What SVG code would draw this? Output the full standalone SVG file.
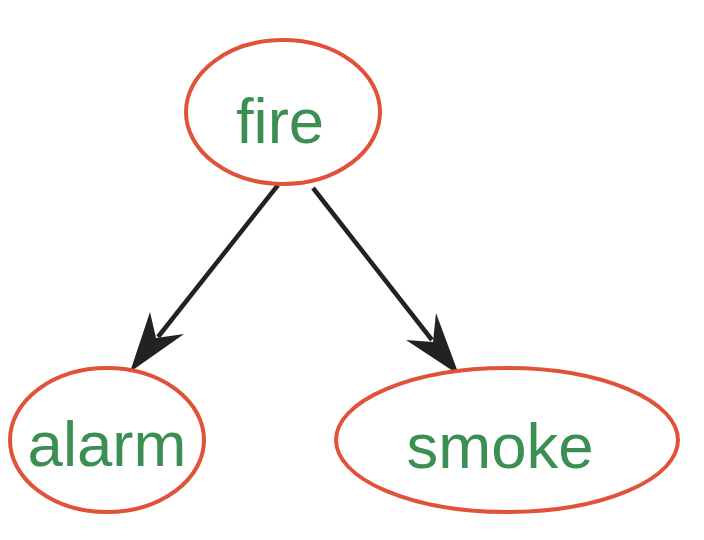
<svg xmlns="http://www.w3.org/2000/svg" width="704" height="540" viewBox="0 0 704 540">
<style>
.node ellipse{fill:#fff;stroke:#e0523a;stroke-width:4}
.node text{font-family:"Liberation Sans",Arial,sans-serif;font-size:63.5px;fill:#3c8f52;text-anchor:middle}
.edge line{stroke:#222;stroke-width:4.5}
.edge path{fill:#222;stroke:none}
</style>
<rect width="704" height="540" fill="#fff"/>
<g id="connectors">
<g class="edge" id="fire-alarm">
<line x1="278" y1="185" x2="158" y2="337"/>
<path d="M130,372 L150,312 L156,338 L184,334 Z"/>
</g>
<g class="edge" id="fire-smoke">
<line x1="313" y1="188" x2="432" y2="340"/>
<path d="M459,375 L406,340 L433,342 L436,313 Z"/>
</g>
</g>
<g class="node" id="fire">
<ellipse cx="283" cy="112" rx="97" ry="72"/>
<text x="280" y="143">fire</text>
</g>
<g class="node" id="alarm">
<ellipse cx="107" cy="440" rx="97" ry="72"/>
<text x="107" y="466">alarm</text>
</g>
<g class="node" id="smoke">
<ellipse cx="507" cy="440" rx="171" ry="72"/>
<text x="500" y="468">smoke</text>
</g>
</svg>
